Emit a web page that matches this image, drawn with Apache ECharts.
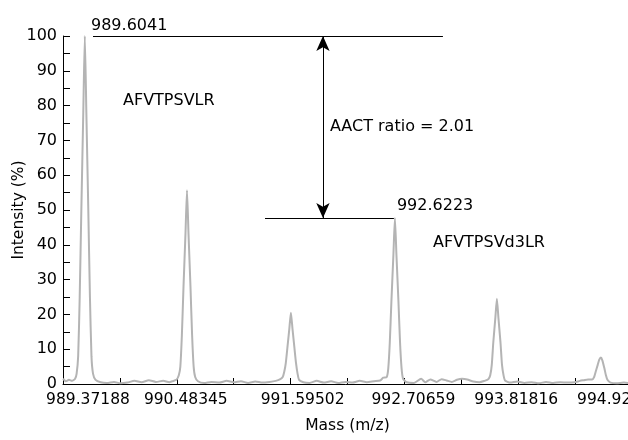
<!DOCTYPE html>
<html>
<head>
<meta charset="utf-8">
<script src="https://cdn.jsdelivr.net/npm/echarts@6/dist/echarts.min.js"></script>
<style>
html,body{margin:0;padding:0;background:#fff;}
#chart{width:628px;height:440px;}
</style>
</head>
<body>
<div id="chart"></div>
<script>
// ---- data ----
var xTickLabels = ['989.37188', '990.48345', '991.59502', '992.70659', '993.81816', '994.92973'];
var yTickValues = [0, 10, 20, 30, 40, 50, 60, 70, 80, 90, 100];

var massValues = [
  989.372, 989.40, 989.43, 989.46, 989.49, 989.505, 989.52, 989.535, 989.551, 989.57, 989.585, 989.60, 989.619, 989.635, 989.65, 989.665, 989.69, 989.74, 989.80, 989.87, 989.93, 990.00, 990.07, 990.14, 990.21, 990.28, 990.35, 990.41,
  990.44, 990.48, 990.503, 990.518, 990.533, 990.549, 990.568, 990.583, 990.598, 990.617, 990.633, 990.648, 990.663, 990.69, 990.75, 990.82, 990.90, 990.97, 991.04, 991.11, 991.18, 991.25, 991.32, 991.39, 991.45, 991.49,
  991.518, 991.533, 991.548, 991.564, 991.583, 991.598, 991.613, 991.632, 991.648, 991.663, 991.678, 991.72, 991.78, 991.85, 991.92, 991.99, 992.06, 992.13, 992.20, 992.27, 992.34, 992.41, 992.47, 992.50,
  992.534, 992.549, 992.564, 992.58, 992.599, 992.614, 992.629, 992.648, 992.664, 992.679, 992.694, 992.73, 992.80, 992.87, 992.91, 992.96, 993.02, 993.07, 993.12, 993.17, 993.22, 993.27, 993.32, 993.38, 993.44, 993.49, 993.515,
  993.53, 993.545, 993.56, 993.575, 993.595, 993.61, 993.625, 993.645, 993.66, 993.675, 993.69, 993.74, 993.81, 993.88, 993.95, 994.02, 994.09, 994.16, 994.23, 994.30, 994.37, 994.42, 994.46, 994.50,
  994.54, 994.56, 994.575, 994.595, 994.61, 994.626, 994.64, 994.66, 994.675, 994.69, 994.72, 994.78, 994.85, 994.93
];
var intensityValues = [
  1.5, 0.8, 1.2, 0.9, 1.5, 3, 8, 25, 50, 78, 100, 78, 50, 25, 8, 3, 1.2, 0.5, 0.3, 0.6, 0.2, 0.4, 0.9, 0.5, 1.1, 0.6, 0.9, 0.5,
  0.8, 1.2, 2.5, 5, 14, 28, 43, 55.7, 43, 28, 14, 5, 2, 0.8, 0.3, 0.6, 0.4, 0.9, 0.5, 0.8, 0.3, 0.7, 0.4, 0.6, 0.9, 1.3,
  2, 3.5, 6, 10.5, 16, 20.5, 16, 10.5, 6, 3, 1.2, 0.5, 0.3, 0.9, 0.4, 0.8, 0.3, 0.6, 0.4, 0.9, 0.5, 0.8, 1.0, 1.8,
  2, 4.5, 12, 24, 37, 47.7, 37, 24, 12, 4.5, 1.5, 0.5, 0.3, 1.5, 0.5, 1.3, 0.6, 1.4, 1.0, 0.6, 1.2, 1.5, 1.3, 0.7, 0.5, 0.9, 1.2,
  1.5, 2.5, 5.5, 12, 19, 24.5, 19, 12, 5.5, 2.5, 1, 0.4, 0.7, 0.3, 0.5, 0.2, 0.6, 0.3, 0.5, 0.4, 0.5, 0.9, 1.1, 1.3,
  1.3, 2, 3.5, 5.5, 7, 7.6, 6.8, 4.5, 2.5, 1.2, 0.4, 0.2, 0.4, 0.2
];

var xMin = 989.37188, xMax = 994.92973, xStep = 0.555785;

// annotation values
var lightPeak = {mass: 989.6041, intensity: 100, label: '989.6041', name: 'AFVTPSVLR'};
var heavyPeak = {mass: 992.6223, intensity: 47.7, label: '992.6223', name: 'AFVTPSVd3LR'};
var ratioText = 'AACT ratio = 2.01';
var lightLineRange = [989.665, 993.083];
var heavyLineRange = [991.345, 992.604];
var arrowMass = 991.911;

var seriesData = massValues.map(function (m, i) { return [m, intensityValues[i]]; });

// layout: horizontal shift (px) of each x tick label in the original figure
var labelShift = [25, 9, 12, 9, -2, -13];
var richStyles = {};
labelShift.forEach(function (s, i) {
  richStyles['l' + i] = {
    fontFamily: 'DejaVu Sans', fontSize: 15.5, color: '#000',
    padding: s >= 0 ? [0, 0, 0, 2 * s] : [0, -2 * s, 0, 0]
  };
});

var FONT = 'DejaVu Sans';
var chart = echarts.init(document.getElementById('chart'), null, {renderer: 'canvas'});
var option = {
  animation: false,
  backgroundColor: '#ffffff',
  grid: {left: 63, right: -4, top: 36, bottom: 56, containLabel: false, outerBoundsMode: 'none'},
  xAxis: {
    type: 'value',
    min: xMin, max: xMax, interval: xStep,
    name: 'Mass (m/z)',
    nameLocation: 'middle',
    nameGap: 34,
    nameMoveOverlap: false,
    nameTextStyle: {fontFamily: FONT, fontSize: 15.5, color: '#000'},
    axisLine: {lineStyle: {color: '#000', width: 1}},
    axisTick: {inside: true, length: 6, lineStyle: {color: '#000'}},
    axisLabel: {
      fontFamily: FONT, fontSize: 15.5, color: '#000', margin: 8,
      showMinLabel: true, showMaxLabel: true,
      rich: richStyles,
      formatter: function (v) {
        var k = Math.round((v - xMin) / xStep);
        if (k % 2 !== 0) return '';
        var j = k / 2;
        return '{l' + j + '|' + xTickLabels[j] + '}';
      }
    },
    splitLine: {show: false}
  },
  yAxis: {
    type: 'value',
    min: 0, max: 100, interval: 5,
    name: 'Intensity (%)',
    nameLocation: 'middle',
    nameGap: 36,
    nameMoveOverlap: false,
    nameTextStyle: {fontFamily: FONT, fontSize: 15.5, color: '#000'},
    axisLine: {show: true, lineStyle: {color: '#000', width: 1}},
    axisTick: {show: true, inside: true, length: 7, lineStyle: {color: '#000'}},
    axisLabel: {
      fontFamily: FONT, fontSize: 16, color: '#000', margin: 6,
      formatter: function (v) { return yTickValues.indexOf(v) >= 0 ? String(v) : ''; }
    },
    splitLine: {show: false}
  },
  series: [{
    type: 'line',
    data: seriesData,
    symbol: 'none',
    smooth: 0.2,
    lineStyle: {color: '#b4b4b4', width: 2},
    markLine: {
      silent: true,
      symbol: ['none', 'none'],
      label: {show: false},
      lineStyle: {color: '#000', width: 1, type: 'solid'},
      data: [
        [{coord: [lightLineRange[0], lightPeak.intensity]}, {coord: [lightLineRange[1], lightPeak.intensity]}],
        [{coord: [heavyLineRange[0], heavyPeak.intensity]}, {coord: [heavyLineRange[1], heavyPeak.intensity]}],
        [{coord: [arrowMass, lightPeak.intensity], symbol: 'arrow', symbolSize: [10, 15]},
         {coord: [arrowMass, heavyPeak.intensity], symbol: 'arrow', symbolSize: [10, 15]}]
      ]
    }
  }]
};
chart.setOption(option);

function px(m, v) { return chart.convertToPixel({gridIndex: 0}, [m, v]); }
var p1 = px(lightLineRange[0], lightPeak.intensity);
var p2 = px(heavyLineRange[1], heavyPeak.intensity);
var pa = px(arrowMass, 80);
var tStyle = {fontFamily: FONT, fontSize: 16, fill: '#000'};
chart.setOption({
  graphic: [
    {type: 'text', left: p1[0] - 2, top: p1[1] - 18, style: Object.assign({text: lightPeak.label}, tStyle)},
    {type: 'text', left: 123, top: 93, style: Object.assign({text: lightPeak.name}, tStyle)},
    {type: 'text', left: pa[0] + 7, top: 119, style: Object.assign({text: ratioText}, tStyle)},
    {type: 'text', left: p2[0] + 3, top: p2[1] - 20, style: Object.assign({text: heavyPeak.label}, tStyle)},
    {type: 'text', left: 433, top: 235, style: Object.assign({text: heavyPeak.name, fontSize: 16.5}, tStyle)}
  ]
});
</script>
</body>
</html>
